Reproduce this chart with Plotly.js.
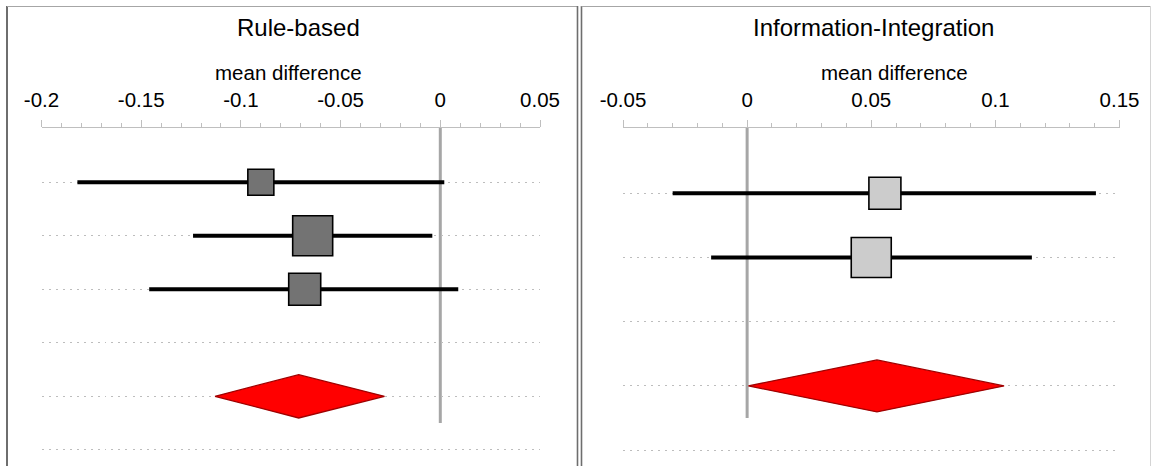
<!DOCTYPE html>
<html>
<head>
<meta charset="utf-8">
<script src="https://cdn.plot.ly/plotly-3.0.1.min.js"></script>
<style>
  html, body { margin: 0; padding: 0; background: #ffffff; }
  #chart { width: 1151px; height: 466px; }
</style>
</head>
<body>
<div id="chart"></div>
<script>
// ---------- data ----------
const panelTitles = ['Rule-based', 'Information-Integration'];
const axisTitle = 'mean difference';

// Rule-based panel
const rbStudies = ['Study 1', 'Study 2', 'Study 3'];
const rbEst   = [-0.090, -0.064, -0.068];
const rbLower = [-0.182, -0.124, -0.146];
const rbUpper = [ 0.002, -0.004,  0.009];
const rbPooledEst   = -0.071;
const rbPooledLower = -0.113;
const rbPooledUpper = -0.028;
const rbTickVals  = [-0.2, -0.15, -0.1, -0.05, 0, 0.05];
const rbTickText  = ['-0.2', '-0.15', '-0.1', '-0.05', '0', '0.05'];

// Information-Integration panel
const iiStudies = ['Study 1', 'Study 2'];
const iiEst   = [0.0555, 0.050];
const iiLower = [-0.030, -0.0145];
const iiUpper = [ 0.1405, 0.1147];
const iiPooledEst   = 0.0523;
const iiPooledLower = 0.0005;
const iiPooledUpper = 0.1035;
const iiTickVals = [-0.05, 0, 0.05, 0.1, 0.15];
const iiTickText = ['-0.05', '0', '0.05', '0.1', '0.15'];

// ---------- helpers ----------
const W = 1151, H = 466;
const px = v => v / W;
const py = v => 1 - v / H;
const FONT = 'Liberation Sans, Arial, sans-serif';

function panelTraces(studies, est, lo, hi, pEst, pLo, pHi, sizes, fill, xa, ya) {
  const rows = studies.map((s, i) => i + 1);
  const pooledRow = studies.length + 2;
  const lx = [], ly = [];
  rows.forEach((r, i) => { lx.push(lo[i], hi[i], null); ly.push(r, r, null); });
  const h = 0.405;
  return [
    { type: 'scatter', mode: 'lines', x: lx, y: ly, xaxis: xa, yaxis: ya,
      line: { color: '#000000', width: 4 }, hoverinfo: 'skip' },
    { type: 'scatter', mode: 'markers', x: est, y: rows, text: studies, xaxis: xa, yaxis: ya,
      marker: { symbol: 'square', size: sizes, opacity: 1, color: fill, line: { color: '#000000', width: 1.6 } } },
    { type: 'scatter', mode: 'lines', fill: 'toself', fillcolor: '#ff0000',
      x: [pLo, pEst, pHi, pEst, pLo], y: [pooledRow, pooledRow - h, pooledRow, pooledRow + h, pooledRow],
      xaxis: xa, yaxis: ya, line: { color: '#a00000', width: 1.3 } }
  ];
}

const traces = [].concat(
  panelTraces(rbStudies, rbEst, rbLower, rbUpper, rbPooledEst, rbPooledLower, rbPooledUpper,
              [26, 40, 32], '#737373', 'x', 'y'),
  panelTraces(iiStudies, iiEst, iiLower, iiUpper, iiPooledEst, iiPooledLower, iiPooledUpper,
              [32, 40], '#cccccc', 'x2', 'y2')
);

function xAxis(domain, range, vals, text) {
  return {
    domain: domain, range: range, side: 'top', fixedrange: true,
    tickmode: 'array', tickvals: vals, ticktext: text,
    ticks: 'outside', ticklen: 7, tickwidth: 1, tickcolor: '#bfbfbf',
    ticklabelstandoff: 4,
    minor: { dtick: 0.01, tick0: 0, ticks: 'outside', ticklen: 4, tickwidth: 1, tickcolor: '#bfbfbf', showgrid: false },
    showline: true, linecolor: '#bfbfbf', linewidth: 1.5,
    showgrid: false, zeroline: false,
    tickfont: { family: FONT, size: 20.5, color: '#000000' }
  };
}
function yAxis(range, n) {
  const vals = [];
  for (let i = 1; i <= n; i++) vals.push(i);
  return {
    domain: [0, 338 / H], range: range, fixedrange: true,
    tickmode: 'array', tickvals: vals, showticklabels: false, ticks: '',
    showgrid: true, gridcolor: '#bdbdbd', gridwidth: 1, griddash: '2px,5px',
    zeroline: false, showline: false
  };
}

const rbRows = rbStudies.length + 3;
const iiRows = iiStudies.length + 3;

const layout = {
  width: W, height: H,
  margin: { l: 0, r: 0, t: 0, b: 0 },
  paper_bgcolor: '#ffffff', plot_bgcolor: 'rgba(0,0,0,0)',
  showlegend: false,
  font: { family: FONT, color: '#000000' },
  xaxis:  xAxis([px(41.5), px(540)], [-0.2, 0.05], rbTickVals, rbTickText),
  yaxis:  Object.assign(yAxis([6.303, -0.015], rbRows), { anchor: 'x' }),
  xaxis2: Object.assign(xAxis([px(623), px(1119.5)], [-0.05, 0.15], iiTickVals, iiTickText), { anchor: 'y2' }),
  yaxis2: Object.assign(yAxis([5.248, -0.017], iiRows), { anchor: 'x2' }),
  shapes: [
    // zero reference lines
    { type: 'line', xref: 'x', yref: 'y', x0: 0, x1: 0, y0: -0.015, y1: rbStudies.length + 2.5,
      line: { color: '#a6a6a6', width: 3 }, layer: 'below' },
    { type: 'line', xref: 'x2', yref: 'y2', x0: 0, x1: 0, y0: -0.017, y1: iiStudies.length + 2.5,
      line: { color: '#a6a6a6', width: 3 }, layer: 'below' },
    // panel frames
    { type: 'line', xref: 'paper', yref: 'paper', x0: px(7), x1: px(7), y0: 0, y1: py(6), line: { color: '#6e6e6e', width: 2 } },
    { type: 'line', xref: 'paper', yref: 'paper', x0: px(7), x1: px(577.5), y0: py(6.5), y1: py(6.5), line: { color: '#a6a6a6', width: 1 } },
    { type: 'line', xref: 'paper', yref: 'paper', x0: px(577.5), x1: px(577.5), y0: 0, y1: py(6), line: { color: '#6e6e6e', width: 1.6 } },
    { type: 'line', xref: 'paper', yref: 'paper', x0: px(581.5), x1: px(581.5), y0: 0, y1: py(6), line: { color: '#6e6e6e', width: 1.6 } },
    { type: 'line', xref: 'paper', yref: 'paper', x0: px(581.5), x1: 1, y0: py(6.5), y1: py(6.5), line: { color: '#a6a6a6', width: 1 } },
    { type: 'line', xref: 'paper', yref: 'paper', x0: px(1150.5), x1: px(1150.5), y0: 0, y1: py(6), line: { color: '#d4d4d4', width: 1 } }
  ],
  annotations: [
    { xref: 'paper', yref: 'paper', x: px(298.5), y: py(28), text: panelTitles[0], showarrow: false,
      xanchor: 'center', yanchor: 'middle', font: { family: FONT, size: 24, color: '#000000' } },
    { xref: 'paper', yref: 'paper', x: px(873), y: py(28), text: panelTitles[1], showarrow: false,
      xanchor: 'center', yanchor: 'middle', font: { family: FONT, size: 24, color: '#000000' } },
    { xref: 'paper', yref: 'paper', x: px(288.5), y: py(72), text: axisTitle, showarrow: false,
      xanchor: 'center', yanchor: 'middle', font: { family: FONT, size: 20.5, color: '#000000' } },
    { xref: 'paper', yref: 'paper', x: px(894), y: py(72), text: axisTitle, showarrow: false,
      xanchor: 'center', yanchor: 'middle', font: { family: FONT, size: 20.5, color: '#000000' } }
  ]
};

Plotly.newPlot('chart', traces, layout, { staticPlot: true, displayModeBar: false });
</script>
</body>
</html>
